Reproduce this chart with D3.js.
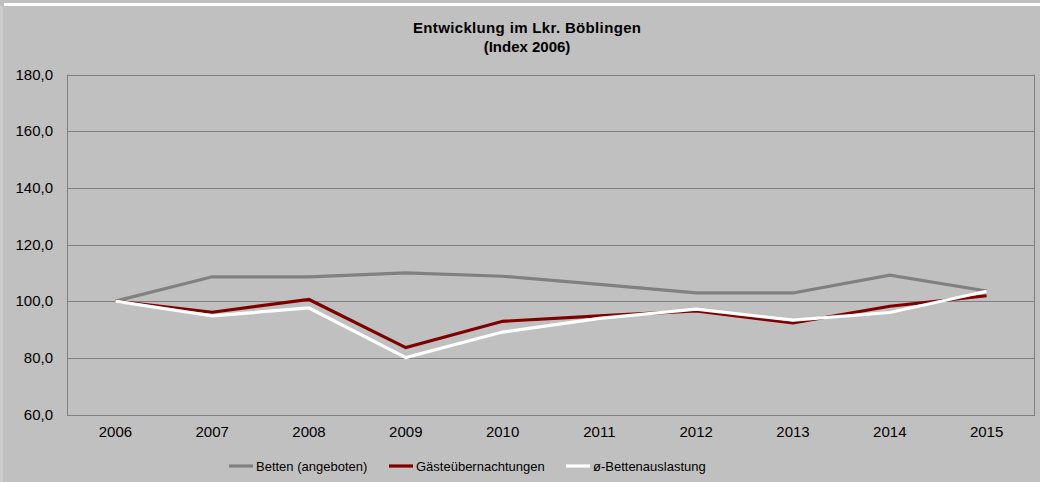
<!DOCTYPE html>
<html><head><meta charset="utf-8">
<script src="https://cdn.jsdelivr.net/npm/d3@7/dist/d3.min.js"></script>
<style>body{margin:0;background:#c0c0c0;}svg{display:block;}</style>
</head><body>
<script>
const years = ["2006","2007","2008","2009","2010","2011","2012","2013","2014","2015"];
const betten = [100,108.6,108.6,110.0,108.8,105.9,102.9,102.9,109.2,103.6];
const gaeste = [100,96.1,100.6,83.6,92.9,94.8,96.6,92.3,98.2,101.9];
const auslastung = [100,94.8,97.6,80.1,89.1,93.9,97.2,93.3,96.0,103.5];
const seriesNames = ["Betten (angeboten)","Gästeübernachtungen","ø-Bettenauslastung"];
const seriesColors = ["#808080","#800000","#ffffff"];
const yTicks = [60,80,100,120,140,160,180];

const W=1040,H=482;
const svg=d3.select("body").append("svg").attr("width",W).attr("height",H)
  .style("font-family","'Liberation Sans', Arial, sans-serif");
svg.append("rect").attr("width",W).attr("height",H).attr("fill","#c0c0c0");
svg.append("rect").attr("x",4).attr("y",3).attr("width",W-4).attr("height",3).attr("fill","#ffffff");
svg.append("rect").attr("x",0).attr("y",6).attr("width",3).attr("height",H-6).attr("fill","#cccccc");

const m={l:67,r:1035,t:74.5,b:414.5};
const x=d3.scaleBand().domain(years).range([m.l,m.r]);
const y=d3.scaleLinear().domain([60,180]).range([m.b,m.t]);

svg.append("g").selectAll("line").data(yTicks).join("line")
  .attr("x1",m.l).attr("x2",m.r).attr("y1",d=>Math.round(y(d))+0.5).attr("y2",d=>Math.round(y(d))+0.5)
  .attr("stroke","#808080").attr("stroke-width",1);
svg.append("line").attr("x1",m.l+0.5).attr("x2",m.l+0.5).attr("y1",m.t).attr("y2",m.b+1).attr("stroke","#808080");
svg.append("line").attr("x1",m.r-0.5).attr("x2",m.r-0.5).attr("y1",m.t).attr("y2",m.b+1).attr("stroke","#808080");

const yAxis=d3.axisLeft(y).tickValues(yTicks).tickSize(0).tickPadding(14)
  .tickFormat(d=>d3.format(".1f")(d).replace(".",","));
const gy=svg.append("g").attr("transform",`translate(${m.l},0)`).call(yAxis);
gy.select(".domain").remove();
gy.selectAll("text").attr("font-size",15).attr("fill","#000").attr("font-family","'Liberation Sans', Arial, sans-serif");

const xAxis=d3.axisBottom(x).tickSize(0).tickPadding(12);
const gx=svg.append("g").attr("transform",`translate(0,${m.b})`).call(xAxis);
gx.select(".domain").remove();
gx.selectAll("text").attr("font-size",15).attr("fill","#000").attr("font-family","'Liberation Sans', Arial, sans-serif");

const data=[betten,gaeste,auslastung];
const line=d3.line().x((d,i)=>x(years[i])+x.bandwidth()/2).y(d=>y(d));
data.forEach((s,k)=>{
  svg.append("path").datum(s).attr("d",line).attr("fill","none")
    .attr("stroke",seriesColors[k]).attr("stroke-width",3.2).attr("stroke-linejoin","miter");
});

svg.append("text").attr("x",527).attr("y",33).attr("text-anchor","middle")
  .attr("font-weight","bold").attr("font-size",15).attr("textLength",228).text("Entwicklung im Lkr. Böblingen");
svg.append("text").attr("x",527).attr("y",52).attr("text-anchor","middle")
  .attr("font-weight","bold").attr("font-size",15).text("(Index 2006)");

const legX=[229,389,566];
const lg=svg.append("g");
seriesNames.forEach((n,k)=>{
  lg.append("line").attr("x1",legX[k]).attr("x2",legX[k]+24).attr("y1",466).attr("y2",466)
    .attr("stroke",seriesColors[k]).attr("stroke-width",3.2);
  lg.append("text").attr("x",legX[k]+27).attr("y",471).attr("font-size",13).text(n);
});
</script>
</body></html>
